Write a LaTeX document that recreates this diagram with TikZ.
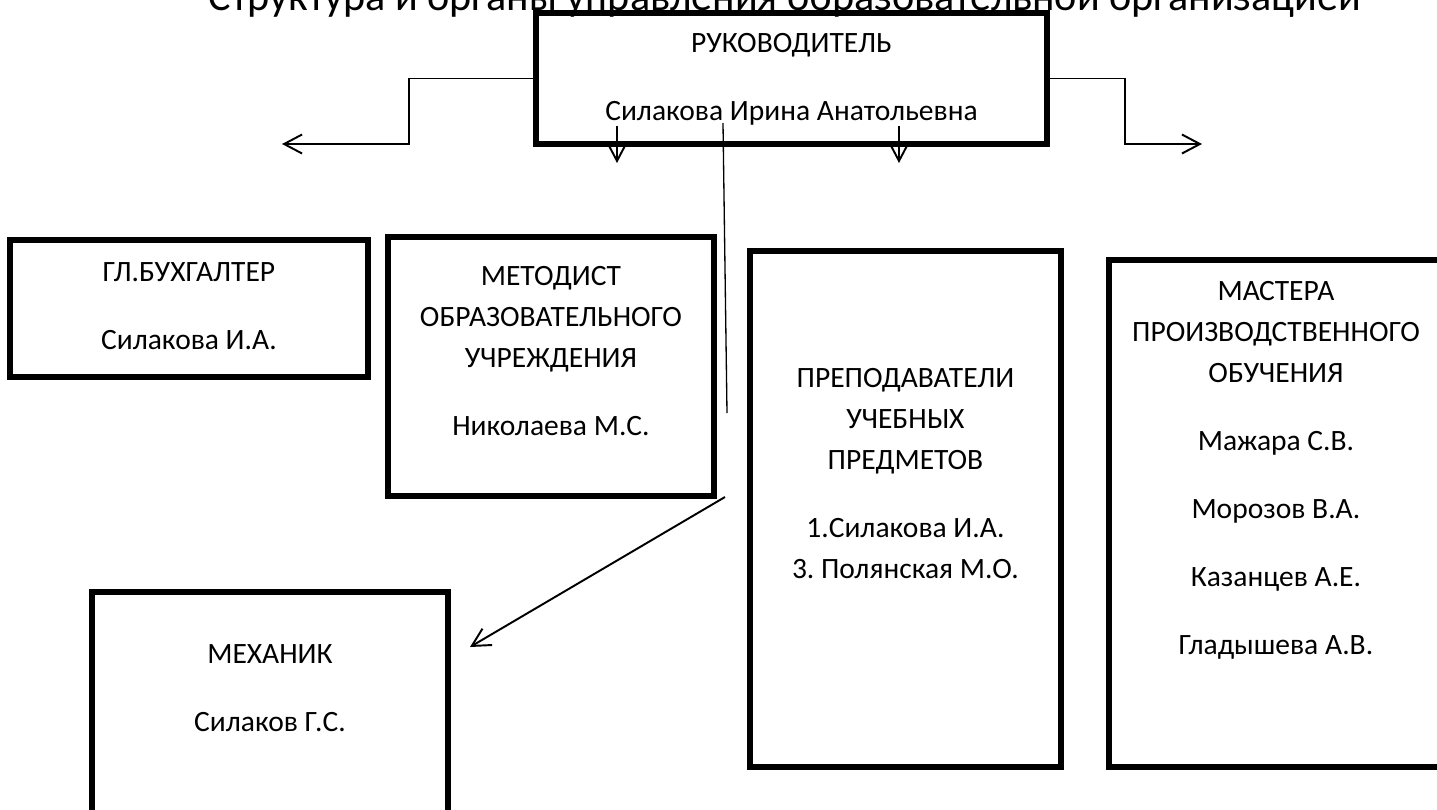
\documentclass[tikz,border=0pt]{standalone}
\usepackage{fontspec}
\setmainfont{Carlito}
\usepackage{tikz}
\usetikzlibrary{positioning,arrows.meta}
\tikzstyle{arrow} = [line width=1.1pt, -{Straight Barb[length=0.36cm,width=0.38cm]}]
\tikzstyle{thinline} = [line width=0.75pt]

\begin{document}
\begin{tikzpicture}[x=0.02cm, y=-0.02cm,
		unit/.style={
				rectangle,
				draw=black,
				line width=3.1pt,
				outer sep=0pt,
				inner sep=0pt,
				anchor=north west,
			},
		caption/.style={
				anchor=north,
				inner sep=0pt,
				align=center,
				font=\fontsize{16.8pt}{23.3pt}\selectfont,
			},
		heading/.style={
				anchor=base,
				inner sep=0pt,
				font=\fontsize{24pt}{28pt}\selectfont,
			}
	]
	\useasboundingbox (0,0) rectangle (1437,809);
	\clip (0,0) rectangle (1437,809);

	% Title (cut at the top)
	\node[heading] (title) at (785,10) {Структура и органы управления образовательной организацией};

	% Head box
	\node[unit, minimum width=10.22cm, minimum height=2.62cm] (head) at (536,13) {};
	\node[caption, below=0.4cm of head.north] (headtxt) {РУКОВОДИТЕЛЬ\\[15.4pt]Силакова Ирина Анатольевна};

	% Accountant box
	\node[unit, minimum width=7.16cm, minimum height=2.74cm] (buh) at (10,240) {};
	\node[caption, below=0.44cm of buh.north] (buhtxt) {ГЛ.БУХГАЛТЕР\\[15.4pt]Силакова И.А.};

	% Methodist box
	\node[unit, minimum width=6.52cm, minimum height=5.18cm] (metod) at (388,237) {};
	\node[caption, below=0.58cm of metod.north] (metodtxt) {МЕТОДИСТ\\ОБРАЗОВАТЕЛЬНОГО\\УЧРЕЖДЕНИЯ\\[15.4pt]Николаева М.С.};

	% Teachers box
	\node[unit, minimum width=6.22cm, minimum height=10.32cm] (prep) at (750,251) {};
	\node[caption, below=2.34cm of prep.north] (preptxt) {ПРЕПОДАВАТЕЛИ\\УЧЕБНЫХ\\ПРЕДМЕТОВ\\[15.4pt]1.Силакова И.А.\\3.\ Полянская М.О.};

	% Masters box
	\node[unit, minimum width=6.68cm, minimum height=10.14cm] (master) at (1109,260) {};
	\node[caption, below=0.42cm of master.north] (mastertxt) {МАСТЕРА\\ПРОИЗВОДСТВЕННОГО\\ОБУЧЕНИЯ\\[15.4pt]Мажара С.В.\\[15.4pt]Морозов В.А.\\[15.4pt]Казанцев А.Е.\\[15.4pt]Гладышева А.В.};

	% Mechanic box
	\node[unit, minimum width=7.12cm, minimum height=5.2cm] (mech) at (92,592) {};
	\node[caption, below=1.04cm of mech.north] (mechtxt) {МЕХАНИК\\[15.4pt]Силаков Г.С.};

	% Connections
	\coordinate (leftend) at (282,144);
	\coordinate (rightend) at (1202,144);
	\coordinate (leftdown) at (617,163);
	\coordinate (rightdown) at (899,163);
	\coordinate (linetop) at (723,123);
	\coordinate (lineend) at (727,413);
	\coordinate (diagtop) at (725,497);
	\coordinate (mechin) at (470,647);

	\draw[arrow] (head.west) -- ++(-127,0) |- (leftend);
	\draw[arrow] (head.east) -- ++(78,0) |- (rightend);
	\draw[arrow] (leftdown |- headtxt.south) -- (leftdown);
	\draw[arrow] (rightdown |- headtxt.south) -- (rightdown);
	\draw[thinline] (linetop) -- (lineend);
	\draw[arrow] (diagtop) -- (mechin);
\end{tikzpicture}
\end{document}
